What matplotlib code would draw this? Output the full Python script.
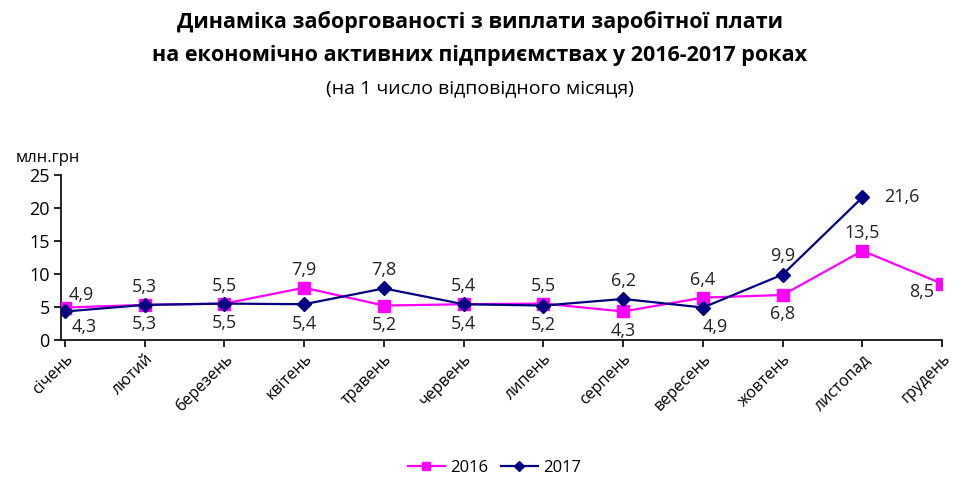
import matplotlib
matplotlib.use("Agg")
import matplotlib.pyplot as plt
import matplotlib.transforms as mtransforms

plt.rcParams['font.family'] = ['Open Sans', 'DejaVu Sans']

months = ["січень", "лютий", "березень", "квітень", "травень", "червень",
          "липень", "серпень", "вересень", "жовтень", "листопад", "грудень"]
y2016 = [4.9, 5.3, 5.5, 7.9, 5.2, 5.4, 5.5, 4.3, 6.4, 6.8, 13.5, 8.5]
y2017 = [4.3, 5.3, 5.5, 5.4, 7.8, 5.4, 5.2, 6.2, 4.9, 9.9, 21.6]
yticks = [0, 5, 10, 15, 20, 25]

fig = plt.figure(figsize=(9.6, 4.94), dpi=100)
ax = fig.add_axes([0.0635, 0.312, 0.918, 0.334])

x16 = list(range(len(y2016)))
x17 = list(range(len(y2017)))
pink = '#FF00FF'
navy = '#000080'
ax.plot(x16, y2016, color=pink, lw=1.6, marker='s', ms=8, mfc=pink, mec=pink, label='2016', zorder=3)
ax.plot(x17, y2017, color=navy, lw=1.6, marker='D', ms=7, mfc=navy, mec=navy, label='2017', zorder=4)

ax.set_xlim(-0.05, 11)
ax.set_ylim(0, 25)
ax.set_yticks(yticks)
ax.set_yticklabels([str(v) for v in yticks], fontsize=13)
ax.set_xticks(x16)
ax.set_xticklabels(months, rotation=45, ha='right', va='top', rotation_mode='anchor',
                   fontsize=11.5)
shift = mtransforms.ScaledTranslation(-9 / 72, 0, fig.dpi_scale_trans)
for lbl in ax.get_xticklabels():
    lbl.set_transform(lbl.get_transform() + shift)
ax.tick_params(axis='x', length=5, pad=3, width=1.2)
ax.tick_params(axis='y', length=5, pad=3, width=1.2)
for s in ['top', 'right']:
    ax.spines[s].set_visible(False)
for s in ['left', 'bottom']:
    ax.spines[s].set_linewidth(1.2)

def fmt(v):
    return f"{v:.1f}".replace('.', ',')

# label offsets in points (dx, dy)
off16 = [(12, 9), (0, 13), (0, 13), (0, 13), (0, -14), (0, 13), (0, 13), (0, -14), (0, 13), (0, -14), (0, 13), (-15, -6)]
off17 = [(14, -11), (0, -14), (0, -14), (0, -14), (0, 13), (0, -14), (0, -14), (0, 13), (9, -14), (0, 13), (28, 0)]
for x, v, o in zip(x16, y2016, off16):
    ax.annotate(fmt(v), (x, v), xytext=o, textcoords='offset points', ha='center', va='center',
                fontsize=13, color='#222222', zorder=5, annotation_clip=False)
for x, v, o in zip(x17, y2017, off17):
    ax.annotate(fmt(v), (x, v), xytext=o, textcoords='offset points', ha='center', va='center',
                fontsize=13, color='#222222', zorder=5, annotation_clip=False)

fig.text(0.05, 0.68, "млн.грн", fontsize=12, ha='center', va='center')

fig.text(0.5, 0.955, "Динаміка заборгованості з виплати заробітної плати", fontsize=15.5,
         fontweight='bold', ha='center', va='center')
fig.text(0.5, 0.887, "на економічно активних підприємствах у 2016-2017 роках", fontsize=15.5,
         fontweight='bold', ha='center', va='center')
fig.text(0.5, 0.822, "(на 1 число відповідного місяця)", fontsize=14, ha='center', va='center')

fig.legend(loc='center', bbox_to_anchor=(0.515, 0.052), ncol=2, frameon=False, fontsize=12,
           handlelength=2.2, columnspacing=0.8, handletextpad=0.3, markerscale=0.8)

fig.savefig('out.png', dpi=100)
